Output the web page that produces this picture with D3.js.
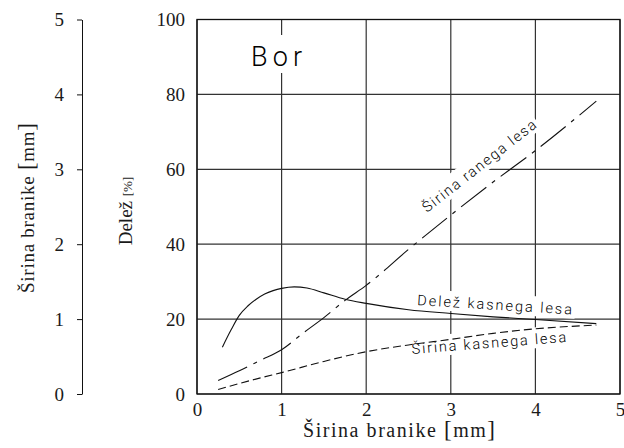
<!DOCTYPE html>
<html lang="sl">
<head>
<meta charset="utf-8">
<title>Bor</title>
<script src="https://cdn.jsdelivr.net/npm/d3@7"></script>
<style>
  body { margin: 0; background: #fff; }
  .serif { font-family: "Times New Roman", "Liberation Serif", serif; font-weight: normal; fill: #1a1a1a; }
  .cad { font-family: Roboto, "DejaVu Sans", sans-serif; font-weight: 300; fill: #000; }
  .grid line { stroke: #333; stroke-width: 1.2; }
</style>
</head>
<body>
<svg width="624" height="448"></svg>
<script>
// ticks
var xTicks = [0, 1, 2, 3, 4, 5];
var pctTicks = [0, 20, 40, 60, 80, 100];
var mmTicks = [0, 1, 2, 3, 4, 5];

// Delež kasnega lesa [%]
var shareX = [0.3, 0.4, 0.5, 0.6, 0.7, 0.8, 0.9, 1.0, 1.15, 1.3, 1.5, 1.75, 2.0, 2.5, 3.0, 3.5, 4.0, 4.72];
var shareY = [12.5, 17, 21, 23.5, 25.3, 26.7, 27.6, 28.2, 28.6, 28.3, 27, 25.3, 24.2, 22.5, 21.5, 20.6, 19.9, 18.8];

// Širina ranega lesa [mm]
var earlyX = [0.25, 0.5, 0.75, 1.0, 1.25, 1.5, 1.75, 2.0, 2.5, 3.0, 3.5, 4.0, 4.72];
var earlyY = [0.18, 0.31, 0.45, 0.59, 0.81, 1.02, 1.25, 1.45, 1.93, 2.39, 2.83, 3.25, 3.91];

// Širina kasnega lesa [mm]
var lateX = [0.25, 0.5, 0.75, 1.0, 1.5, 2.0, 2.5, 3.0, 3.5, 4.0, 4.72];
var lateY = [0.06, 0.14, 0.215, 0.285, 0.435, 0.565, 0.655, 0.73, 0.81, 0.87, 0.92];

var svg = d3.select("svg");

var x = d3.scaleLinear().domain([0, 5]).range([197, 620]),
    yPct = d3.scaleLinear().domain([0, 100]).range([394, 19.5]),
    yMm = d3.scaleLinear().domain([0, 5]).range([394, 19.5]);

// grid
var grid = svg.append("g").attr("class", "grid");
grid.selectAll(".v").data(xTicks).enter().append("line")
    .attr("x1", function(d) { return x(d); }).attr("x2", function(d) { return x(d); })
    .attr("y1", yPct(0)).attr("y2", yPct(100));
grid.selectAll(".h").data(pctTicks).enter().append("line")
    .attr("x1", x(0)).attr("x2", x(5))
    .attr("y1", function(d) { return yPct(d); }).attr("y2", function(d) { return yPct(d); });

// labels inside the plot (white box cuts the grid)
var labels = [
  { text: "Bor", x: 251, y: 66, angle: 0, size: 27, len: 51, padTop: 6 },
  { text: "Širina ranega lesa", x: 427, y: 213, angle: -38, size: 14.5, len: 140, padTop: 3 },
  { text: "Delež kasnega lesa", x: 417, y: 305, angle: 3.5, size: 14.5, len: 155, padTop: 3 },
  { text: "Širina kasnega lesa", x: 412, y: 354, angle: -4.5, size: 14.5, len: 155, padTop: 3 }
];

var lab = svg.append("g").selectAll("g").data(labels).enter().append("g")
    .attr("transform", function(d) { return "translate(" + d.x + "," + d.y + ") rotate(" + d.angle + ")"; });
lab.append("rect").attr("fill", "#fff");
var txt = lab.append("text").attr("class", "cad")
    .attr("font-size", function(d) { return d.size; })
    .attr("textLength", function(d) { return d.len; })
    .attr("lengthAdjust", "spacing")
    .text(function(d) { return d.text; });
txt.each(function(d) {
  var b = this.getBBox();
  d3.select(this.parentNode).select("rect")
    .attr("x", b.x - 3).attr("y", b.y - d.padTop)
    .attr("width", b.width + 6).attr("height", b.height + d.padTop);
});

// frame
svg.append("rect")
    .attr("x", x(0)).attr("y", yPct(100))
    .attr("width", x(5) - x(0)).attr("height", yPct(0) - yPct(100))
    .attr("fill", "none").attr("stroke", "#111").attr("stroke-width", 1.3);

// curves
var lineShare = d3.line().curve(d3.curveMonotoneX)
    .x(function(d, i) { return x(shareX[i]); })
    .y(function(d) { return yPct(d); });
var lineEarly = d3.line().curve(d3.curveMonotoneX)
    .x(function(d, i) { return x(earlyX[i]); })
    .y(function(d) { return yMm(d); });
var lineLate = d3.line().curve(d3.curveMonotoneX)
    .x(function(d, i) { return x(lateX[i]); })
    .y(function(d) { return yMm(d); });

svg.append("path").attr("d", lineShare(shareY))
    .attr("fill", "none").attr("stroke", "#111").attr("stroke-width", 1.1);
svg.append("path").attr("d", lineEarly(earlyY))
    .attr("fill", "none").attr("stroke", "#111").attr("stroke-width", 1.1)
    .attr("stroke-dasharray", "32,7,4,7");
svg.append("path").attr("d", lineLate(lateY))
    .attr("fill", "none").attr("stroke", "#111").attr("stroke-width", 1.1)
    .attr("stroke-dasharray", "8,4");

// axes
var fmt = d3.format("d");
var axMm = svg.append("g").attr("transform", "translate(82,0)")
    .call(d3.axisLeft(yMm).tickValues(mmTicks).tickFormat(fmt).tickSize(5).tickSizeOuter(0).tickPadding(13));
var axPct = svg.append("g").attr("transform", "translate(" + x(0) + ",0)")
    .call(d3.axisLeft(yPct).tickValues(pctTicks).tickFormat(fmt).tickSize(0).tickPadding(12));
axPct.select(".domain").remove();
var axX = svg.append("g").attr("transform", "translate(0," + yPct(0) + ")")
    .call(d3.axisBottom(x).tickValues(xTicks).tickFormat(fmt).tickSize(0).tickPadding(9));
axX.select(".domain").remove();

svg.selectAll(".tick text").attr("class", "serif").attr("font-size", 19);
axMm.selectAll("line, path").attr("stroke", "#111");

// axis titles
function title(g, main, unit, size, usize) {
  g.append("tspan").text(main);
  g.append("tspan").attr("font-size", usize).text("[");
  g.append("tspan").attr("font-size", size).text(unit);
  g.append("tspan").attr("font-size", usize).text("]");
}
var tl = svg.append("text").attr("class", "serif").attr("font-size", 19)
    .attr("text-anchor", "middle")
    .attr("textLength", 170).attr("lengthAdjust", "spacing")
    .attr("transform", "translate(34,208) rotate(-90)");
title(tl, "Širina branike ", "mm", 19, 23);

var td = svg.append("text").attr("class", "serif").attr("font-size", 19)
    .attr("text-anchor", "middle")
    .attr("transform", "translate(132,211) rotate(-90)");
td.append("tspan").text("Delež ");
td.append("tspan").attr("font-size", 13).text("[%]");

var tx = svg.append("text").attr("class", "serif").attr("font-size", 20)
    .attr("text-anchor", "middle")
    .attr("textLength", 192).attr("lengthAdjust", "spacing")
    .attr("x", 399).attr("y", 437);
title(tx, "Širina branike ", "mm", 20, 23);
</script>
</body>
</html>
